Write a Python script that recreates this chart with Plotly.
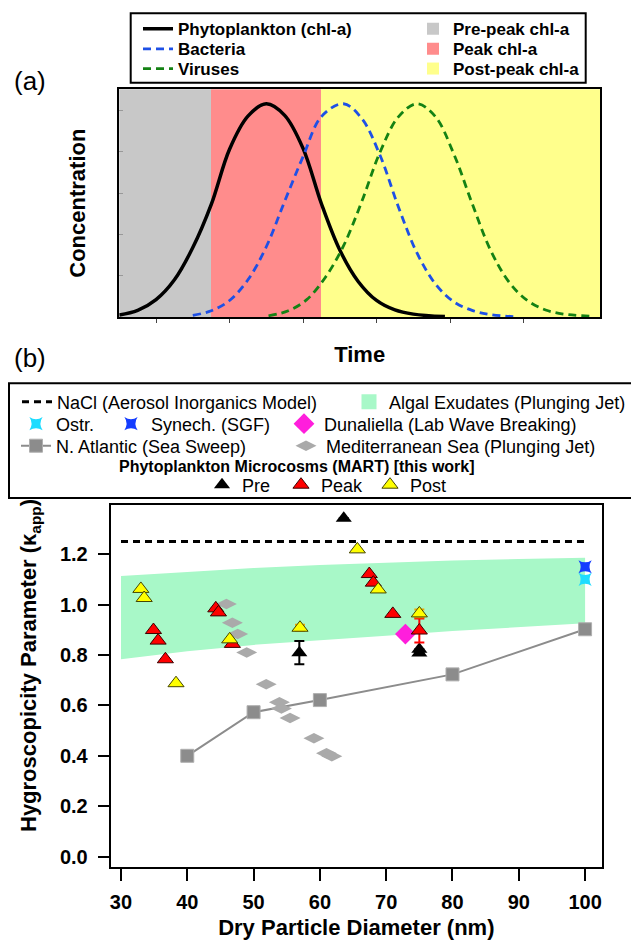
import plotly.graph_objects as go

# The page body has an 8 px margin, so the figure is drawn 8 px smaller and
# all layout positions below are given in window pixels.
OFF = 8
W, H = 639 - OFF, 940 - OFF
FONT = "Liberation Sans, Arial, Helvetica, sans-serif"

# ---------------- Panel (a) data (schematic) ----------------
time_ticks = [0.5, 1.5, 2.5, 3.5, 4.5, 5.5]
conc_ticks = [1, 2, 3, 4, 5]
time_range = [0.0, 6.54]
conc_range = [0.0, 5.51]

phase_names = ["Pre-peak chl-a", "Peak chl-a", "Post-peak chl-a"]
phase_edges = [0.0, 1.25, 2.75, 6.54]
phase_colors = ["rgb(200,200,200)", "rgb(255,140,140)", "rgb(255,255,140)"]

phyto_t = [0.00, 0.25, 0.50, 0.75, 1.00, 1.25, 1.50, 1.75, 2.00, 2.25, 2.50, 2.75,
           3.00, 3.25, 3.50, 3.75, 4.00, 4.43]
phyto_c = [0.05, 0.16, 0.42, 0.90, 1.68, 2.72, 4.06, 4.86, 5.16, 4.88, 4.08, 2.74,
           1.62, 0.86, 0.40, 0.17, 0.07, 0.01]

bact_t = [1.00, 1.25, 1.50, 1.75, 2.00, 2.25, 2.50, 2.75, 3.05, 3.30, 3.55, 3.80,
          4.05, 4.30, 4.55, 4.80, 5.05, 5.36]
bact_c = [0.04, 0.15, 0.40, 0.90, 1.70, 2.80, 3.88, 4.85, 5.16, 4.80, 3.90, 2.65,
          1.55, 0.80, 0.37, 0.16, 0.06, 0.01]

vir_t = [2.03, 2.30, 2.55, 2.80, 3.05, 3.30, 3.55, 3.80, 4.05, 4.30, 4.55, 4.80,
         5.05, 5.30, 5.55, 5.80, 6.05, 6.40]
vir_c = [0.03, 0.15, 0.42, 0.95, 1.72, 2.80, 4.00, 4.85, 5.16, 4.85, 3.95, 2.75,
         1.62, 0.85, 0.40, 0.17, 0.07, 0.02]

# ---------------- Panel (b) data ----------------
diam_ticks = [30, 40, 50, 60, 70, 80, 90, 100]
kappa_ticks = [0.0, 0.2, 0.4, 0.6, 0.8, 1.0, 1.2]
diam_range = [28.45, 102.55]
kappa_range = [-0.04, 1.395]

nacl_d = [30, 100]
nacl_k = [1.25, 1.25]

algal_d = [30, 40, 50, 60, 70, 80, 90, 100]
algal_upper = [1.113, 1.130, 1.145, 1.157, 1.167, 1.175, 1.181, 1.186]
algal_lower = [0.783, 0.815, 0.840, 0.858, 0.876, 0.895, 0.911, 0.926]

ostr_d, ostr_k = [100], [1.10]
synech_d, synech_k = [100], [1.15]
duna_d, duna_k = [72.9], [0.883]

natl_d = [40, 50, 60, 80, 100]
natl_k = [0.40, 0.573, 0.621, 0.723, 0.902]

med_d = [45.9, 46.8, 47.6, 48.96, 51.9, 53.9, 54.2, 55.5, 59.1, 61.0, 61.8]
med_k = [1.002, 0.928, 0.883, 0.810, 0.684, 0.612, 0.588, 0.550, 0.470, 0.410, 0.398]

pre_d = [56.9, 63.6, 75.0, 75.0]
pre_k = [0.809, 1.342, 0.823, 0.808]
pre_err = [0.046, None, None, None]

peak_d = [34.9, 35.6, 36.7, 44.3, 44.7, 46.8, 67.45, 68.06, 71.0, 75.0]
peak_k = [0.899, 0.857, 0.783, 0.985, 0.969, 0.844, 1.121, 1.087, 0.963, 0.897]
peak_err = [None, None, None, None, None, None, None, None, None, 0.048]

post_d = [33.0, 33.5, 38.3, 46.4, 57.0, 65.65, 68.8, 75.0]
post_k = [1.062, 1.026, 0.688, 0.862, 0.908, 1.219, 1.060, 0.965]
post_err = [None, None, None, None, 0.012, None, None, 0.015]


def px(X):
    return (X - OFF) / W


def py(Y):
    return 1 - (Y - OFF) / H


fig = go.Figure()
legends = {}
_count = [0]


def new_legend(sym_x, row_y, size=18, bold=False):
    _count[0] += 1
    key = "legend" if _count[0] == 1 else f"legend{_count[0]}"
    legends[key] = dict(
        x=px(sym_x - 20), y=py(row_y), xanchor="left", yanchor="middle",
        orientation="h", bgcolor="rgba(0,0,0,0)", borderwidth=0,
        font=dict(family=FONT, size=size, color="black",
                  weight="bold" if bold else "normal"),
        itemclick=False, itemdoubleclick=False,
    )
    return key


# ---- Panel (a) ----
for i, name in enumerate(phase_names):
    a, b = phase_edges[i], phase_edges[i + 1]
    fig.add_trace(go.Bar(
        x=[(a + b) / 2], y=[conc_range[1]], width=[b - a], name=name,
        marker=dict(color=phase_colors[i], line=dict(width=0)),
        xaxis="x", yaxis="y", legend=new_legend(433, [29.3, 49.3, 69.0][i], 17, True),
    ))

fig.add_trace(go.Scatter(
    x=phyto_t, y=phyto_c, mode="lines", name="Phytoplankton (chl-a)",
    line=dict(color="black", width=3.5, shape="spline"),
    xaxis="x", yaxis="y", legend=new_legend(158, 29.3, 17, True)))
fig.add_trace(go.Scatter(
    x=bact_t, y=bact_c, mode="lines", name="Bacteria",
    line=dict(color="rgb(30,80,230)", width=2.8, dash="8px,5px", shape="spline"),
    xaxis="x", yaxis="y", legend=new_legend(158, 49.3, 17, True)))
fig.add_trace(go.Scatter(
    x=vir_t, y=vir_c, mode="lines", name="Viruses",
    line=dict(color="rgb(20,130,20)", width=2.8, dash="8px,5px", shape="spline"),
    xaxis="x", yaxis="y", legend=new_legend(158, 69.0, 17, True)))

# ---- Panel (b) ----
ALGAL = "rgb(168,248,200)"
fig.add_trace(go.Scatter(
    x=algal_d + algal_d[::-1], y=algal_upper + algal_lower[::-1],
    mode="lines", fill="toself", fillcolor=ALGAL, line=dict(width=0, color=ALGAL),
    showlegend=False, hoverinfo="skip", xaxis="x2", yaxis="y2"))
fig.add_trace(go.Scatter(
    x=[None], y=[None], mode="markers", name="Algal Exudates (Plunging Jet)",
    marker=dict(symbol="square", size=15, color=ALGAL),
    xaxis="x2", yaxis="y2", legend=new_legend(369, 402)))
fig.add_trace(go.Scatter(
    x=nacl_d, y=nacl_k, mode="lines", name="NaCl (Aerosol Inorganics Model)",
    line=dict(color="black", width=3, dash="7px,5px"),
    xaxis="x2", yaxis="y2", legend=new_legend(37, 402)))
fig.add_trace(go.Scatter(
    x=natl_d, y=natl_k, mode="lines+markers", name="N. Atlantic (Sea Sweep)",
    line=dict(color="rgb(140,140,140)", width=2),
    marker=dict(symbol="square", size=13, color="rgb(140,140,140)",
                line=dict(color="rgb(175,175,175)", width=1)),
    xaxis="x2", yaxis="y2", legend=new_legend(36, 446)))
fig.add_trace(go.Scatter(
    x=med_d, y=med_k, mode="markers", name="Mediterranean Sea (Plunging Jet)",
    marker=dict(symbol="diamond-wide", size=15, color="rgb(170,170,170)"),
    xaxis="x2", yaxis="y2", legend=new_legend(306, 446)))
fig.add_trace(go.Scatter(
    x=duna_d, y=duna_k, mode="markers", name="Dunaliella (Lab Wave Breaking)",
    marker=dict(symbol="diamond", size=16, color="rgb(255,30,220)"),
    xaxis="x2", yaxis="y2", legend=new_legend(304, 424)))
fig.add_trace(go.Scatter(
    x=ostr_d, y=ostr_k, mode="markers", name="Ostr.",
    marker=dict(symbol="star-square", size=12, color="rgb(30,220,255)"),
    xaxis="x2", yaxis="y2", legend=new_legend(36, 424)))
fig.add_trace(go.Scatter(
    x=synech_d, y=synech_k, mode="markers", name="Synech. (SGF)",
    marker=dict(symbol="star-square", size=12, color="rgb(20,60,255)"),
    xaxis="x2", yaxis="y2", legend=new_legend(131, 424)))


def err(vals, color):
    return dict(type="data", array=vals, symmetric=True, color=color,
                thickness=2, width=5, visible=True)


fig.add_trace(go.Scatter(
    x=pre_d, y=pre_k, mode="markers", name="Pre",
    marker=dict(symbol="triangle-up", size=14, color="black"),
    error_y=err(pre_err, "black"),
    xaxis="x2", yaxis="y2", legend=new_legend(222, 485)))
fig.add_trace(go.Scatter(
    x=peak_d, y=peak_k, mode="markers", name="Peak",
    marker=dict(symbol="triangle-up", size=14, color="rgb(255,0,0)",
                line=dict(color="rgb(60,0,0)", width=1)),
    error_y=err(peak_err, "rgb(255,0,0)"),
    xaxis="x2", yaxis="y2", legend=new_legend(301, 485)))
fig.add_trace(go.Scatter(
    x=post_d, y=post_k, mode="markers", name="Post",
    marker=dict(symbol="triangle-up", size=14, color="rgb(255,255,0)",
                line=dict(color="rgb(70,70,0)", width=1)),
    error_y=err(post_err, "rgb(240,170,0)"),
    xaxis="x2", yaxis="y2", legend=new_legend(390, 485)))

axis_common = dict(showline=True, mirror=True, linecolor="black", linewidth=2,
                   showgrid=False, zeroline=False, automargin=False)

fig.update_layout(
    width=W, height=H, margin=dict(l=0, r=0, t=0, b=0),
    paper_bgcolor="white", plot_bgcolor="white",
    barmode="overlay", bargap=0,
    font=dict(family=FONT, color="black"),
    xaxis=dict(domain=[px(119.3), px(600)], anchor="y", range=time_range,
               ticks="outside", tickvals=time_ticks, ticklen=4, tickwidth=1,
               tickcolor="#444", showticklabels=False,
               title=dict(text="Time", standoff=25,
                          font=dict(size=22, weight="bold", family=FONT)),
               **axis_common),
    yaxis=dict(domain=[py(317), py(89.3)], anchor="x", range=conc_range,
               ticks="inside", tickvals=conc_ticks, ticklen=4, tickwidth=1,
               tickcolor="#999", showticklabels=False,
               title=dict(text="Concentration", standoff=26,
                          font=dict(size=22, weight="bold", family=FONT)),
               **axis_common),
    xaxis2=dict(domain=[px(110.7), px(602)], anchor="y2", range=diam_range,
                ticks="outside", tickvals=diam_ticks, ticklen=12, tickwidth=2,
                tickcolor="black", ticklabelstandoff=4,
                tickfont=dict(size=20, weight="bold", family=FONT),
                title=dict(text="Dry Particle Diameter (nm)", standoff=10,
                           font=dict(size=22, weight="bold", family=FONT)),
                **axis_common),
    yaxis2=dict(domain=[py(866.7), py(505)], anchor="x2", range=kappa_range,
                ticks="outside", tickvals=kappa_ticks, tickformat=".1f",
                ticklen=11, tickwidth=2, tickcolor="black", ticklabelstandoff=6,
                tickfont=dict(size=20, weight="bold", family=FONT),
                **axis_common),
    shapes=[
        dict(type="rect", xref="paper", yref="paper", x0=px(130.7), x1=px(585.7),
             y0=py(82.7), y1=py(13.3), line=dict(color="black", width=2)),
        dict(type="rect", xref="paper", yref="paper", x0=px(9), x1=px(637),
             y0=py(498), y1=py(383.3), line=dict(color="black", width=2)),
    ],
    annotations=[
        dict(text="(a)", x=px(30), y=py(81), xref="paper", yref="paper",
             showarrow=False, xanchor="center", yanchor="middle",
             font=dict(size=26, family=FONT)),
        dict(text="(b)", x=px(30), y=py(358), xref="paper", yref="paper",
             showarrow=False, xanchor="center", yanchor="middle",
             font=dict(size=26, family=FONT)),
        dict(text="Phytoplankton Microcosms (MART) [this work]", x=px(297), y=py(466),
             xref="paper", yref="paper", showarrow=False, xanchor="center",
             yanchor="middle", font=dict(size=16, weight="bold", family=FONT)),
        dict(text="Hygroscopicity Parameter (κ<sub>app</sub>)", x=px(30), y=py(666),
             xref="paper", yref="paper", showarrow=False, textangle=-90,
             xanchor="center", yanchor="middle",
             font=dict(size=22, weight="bold", family=FONT)),
    ],
    **legends,
)

fig.write_html("out.html")
